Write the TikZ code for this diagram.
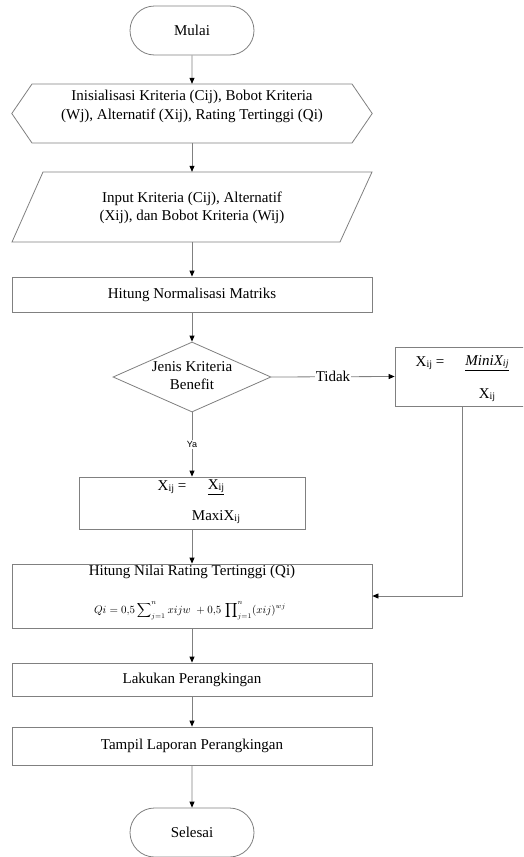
\documentclass[tikz,border=0pt]{standalone}
\usepackage{fontspec}
\setmainfont{Liberation Serif}
\newfontfamily\sansf{Liberation Sans}
\usetikzlibrary{shapes.geometric,shapes.misc,arrows.meta}
\definecolor{linegray}{HTML}{808080}
\newcommand\Xij{X\raisebox{-0.2ex}{\fontsize{10}{10}\selectfont ij}}
\begin{document}
\begin{tikzpicture}[x=1pt,y=-1pt,
  font=\fontsize{15}{19}\selectfont,
  line/.style={draw=linegray, line width=0.8pt},
  arr/.style={line, -{Triangle[length=6pt,width=5pt,color=black]}},
  box/.style={draw=linegray, line width=0.8pt, rectangle, inner sep=0pt, minimum width=360pt, align=center},
  term/.style={rounded rectangle, draw=linegray, line width=0.8pt, minimum width=124pt, minimum height=49pt, inner sep=0pt},
  plain/.style={inner sep=0pt, align=center}]
\clip (0,0) rectangle (523,857);
\fill[white] (0,0) rectangle (523,857);

% start
\node[term] (mulai) at (192,30.5) {Mulai};

% hexagon
\node[minimum width=360pt, minimum height=59pt, inner sep=0pt] (hex) at (192,113.5) {};
\draw[line] (hex.west) -- (32,84) -- (352,84) -- (hex.east) -- (352,143) -- (32,143) -- cycle;
\node[plain, text depth=0pt] (hextxt) at (192,105) {Inisialisasi Kriteria (Cij), Bobot Kriteria\\(Wj), Alternatif (Xij), Rating Tertinggi (Qi)};

% parallelogram
\node[minimum width=360pt, minimum height=70pt, inner sep=0pt] (inp) at (192,207) {};
\draw[line] (43,172) -- (372,172) -- (340,242) -- (12,242) -- cycle;
\node[plain, font=\fontsize{15}{18}\selectfont] (inptxt) at (192,208) {Input Kriteria (Cij), Alternatif\\(Xij), dan Bobot Kriteria (Wij)};

% normalisasi
\node[box, minimum height=35pt] (norm) at (192,294.5) {Hitung Normalisasi Matriks};

% decision
\node[diamond, draw=linegray, line width=0.8pt, minimum width=158pt, minimum height=70pt, inner sep=0pt] (dec) at (192,377) {};
\node[plain, font=\fontsize{15}{18}\selectfont] (dectxt) at (192,376) {Jenis Kriteria\\Benefit};

% cost box (right)
\node[draw=linegray, line width=0.8pt, minimum width=135pt, minimum height=59pt, inner sep=0pt] (minbox) at (462.5,376.5) {};
\node[plain] (mina) at (430,363) {\Xij\ =};
\node[plain] (minb) at (487,363) {\underline{\textit{MiniX\raisebox{-0.2ex}{\fontsize{10}{10}\selectfont ij}}}};
\node[plain] (minc) at (487,395) {\Xij};

% benefit box
\node[draw=linegray, line width=0.8pt, minimum width=226pt, minimum height=52pt, inner sep=0pt] (maxbox) at (192,503) {};
\node[plain] (maxa) at (172,487) {\Xij\ =};
\node[plain] (maxb) at (216,487) {\underline{\Xij}};
\node[plain] (maxc) at (216,517) {Maxi\Xij};

% Qi box
\node[box, minimum height=64pt] (qi) at (192,596) {};
\node[plain] (qit) at (192,572) {Hitung Nilai Rating Tertinggi (Qi)};
\node[plain, font=\fontsize{10.5}{13}\selectfont] (qif) at (190,611) {$\displaystyle Qi = 0{,}5 \sum\nolimits_{j=1}^{n} xijw \;+ 0{,}5 \,\prod\nolimits_{j=1}^{n} (xij)^{wj}$};

% remaining boxes
\node[box, minimum height=33pt] (lak) at (192,679.5) {Lakukan Perangkingan};
\node[box, minimum height=38pt] (tam) at (192,746) {Tampil Laporan Perangkingan};
\node[term] (sel) at (192,832.5) {Selesai};

% connectors
\draw[arr] (mulai) -- (hex);
\draw[arr] (hex) -- (inp);
\draw[arr] (inp) -- (norm);
\draw[arr] (norm) -- (dec);
\draw[arr] (dec.east) -- node[fill=white, inner sep=1pt] (tidak) {Tidak} (minbox.west);
\draw[arr] (dec.south) -- node[fill=white, inner sep=1pt, font=\sansf\fontsize{9}{9}\selectfont] (ya) {Ya} (maxbox.north);
\draw[arr] (maxbox) -- (qi);
\draw[arr] (minbox.south) |- (qi.east);
\draw[arr] (qi) -- (lak);
\draw[arr] (lak) -- (tam);
\draw[arr] (tam) -- (sel);
\end{tikzpicture}
\end{document}
